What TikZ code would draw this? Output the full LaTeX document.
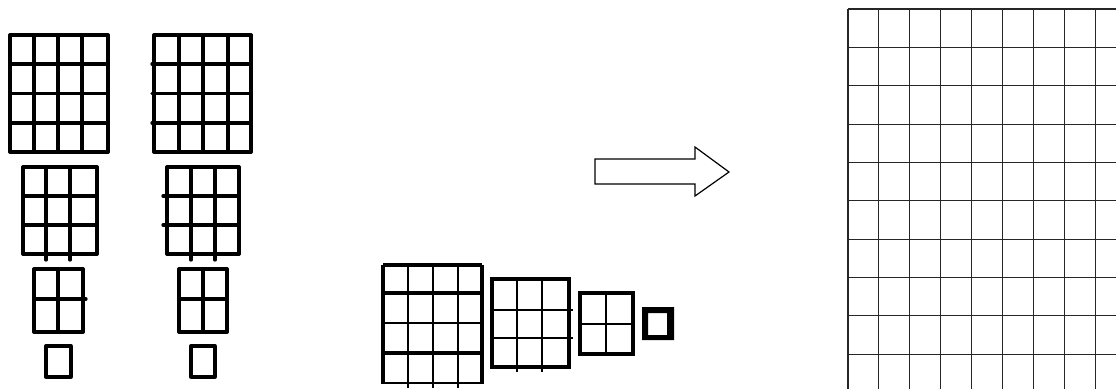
\documentclass[tikz,border=0pt]{standalone}
\begin{document}
\begin{tikzpicture}[x=1pt,y=-1pt,
  thickgrid/.style={line width=3.3pt,line join=round,line cap=round},
  midgrid/.style={line width=2.4pt,line join=miter},
  boldline/.style={line width=3.6pt},
  thinline/.style={line width=2pt},
  thingrid/.style={line width=1.1pt,draw=black!85}]
\useasboundingbox (0,0) rectangle (1116,389);
% ---- left column 1 ----
\foreach \x in {10,34,58,82,108} \draw[thickgrid] (\x,35) -- (\x,152);
\foreach \y in {35,64,93.5,123,152} \draw[thickgrid] (10,\y) -- (108,\y);
\foreach \x in {23,97} \draw[thickgrid] (\x,167) -- (\x,254);
\foreach \x in {46,70} \draw[thickgrid] (\x,167) -- (\x,260);
\foreach \y in {167,196,225,254} \draw[thickgrid] (23,\y) -- (97,\y);
\foreach \x in {34,58,83} \draw[thickgrid] (\x,269) -- (\x,332);
\draw[thickgrid] (34,269) -- (83,269) (34,332) -- (83,332) (34,299) -- (86,299);
\draw[thickgrid] (46,346) rectangle (71,377);
% ---- left column 2 ----
\foreach \x in {154,179,203,228,251} \draw[thickgrid] (\x,35) -- (\x,152);
\draw[thickgrid] (154,35) -- (251,35) (154,152) -- (251,152);
\foreach \y in {64,93.5,123} \draw[thickgrid] (152,\y) -- (251,\y);
\foreach \x in {167,239} \draw[thickgrid] (\x,167) -- (\x,254);
\foreach \x in {191,215} \draw[thickgrid] (\x,167) -- (\x,260);
\draw[thickgrid] (167,167) -- (239,167) (167,254) -- (239,254);
\foreach \y in {196,225} \draw[thickgrid] (163,\y) -- (239,\y);
\foreach \x in {179,203,227} \draw[thickgrid] (\x,269) -- (\x,332);
\foreach \y in {269,299,332} \draw[thickgrid] (179,\y) -- (227,\y);
\draw[thickgrid] (191,346) rectangle (215,377);
% ---- bottom group ----
\foreach \x in {408,433,458} \draw[midgrid] (\x,265) -- (\x,388);
\draw[midgrid] (383,323) -- (482,323);
\foreach \y in {293,353} \draw[boldline] (383,\y) -- (482,\y);
\draw[boldline] (383,265) -- (482,265) (383,265) -- (383,384) (482,265) -- (482,384);
\draw[midgrid] (383,383) -- (482,383);
% grid B
\foreach \x in {517,542} \draw[thinline] (\x,279) -- (\x,372);
\foreach \y in {310,338} \draw[thinline] (492,\y) -- (573,\y);
\draw[boldline] (492,279) rectangle (569,367);
\draw[line width=4.5pt] (490,279) -- (571,279);
% grid C
\draw[thinline] (606,293) -- (606,354) (580,324) -- (633,324);
\draw[boldline] (580,293) rectangle (633,354);
\draw[line width=4.5pt] (578,293) -- (635,293);
% grid D (heavy frame)
\fill[even odd rule] (642,307) rectangle (674,340) (648,313) rectangle (667,335);
% ---- arrow ----
\draw[line width=1.2pt,line join=miter] (595,159) -- (695,159) -- (695,147) -- (729,172)
  -- (695,196) -- (695,184) -- (595,184) -- cycle;
% ---- right grid ----
\foreach \i in {0,...,8} \draw[thingrid] ({848+30.9*\i},9) -- ({848+30.9*\i},389);
\foreach \j in {0,...,9} \draw[thingrid] (848,{9+38.35*\j}) -- (1116,{9+38.35*\j});
\end{tikzpicture}
\end{document}
